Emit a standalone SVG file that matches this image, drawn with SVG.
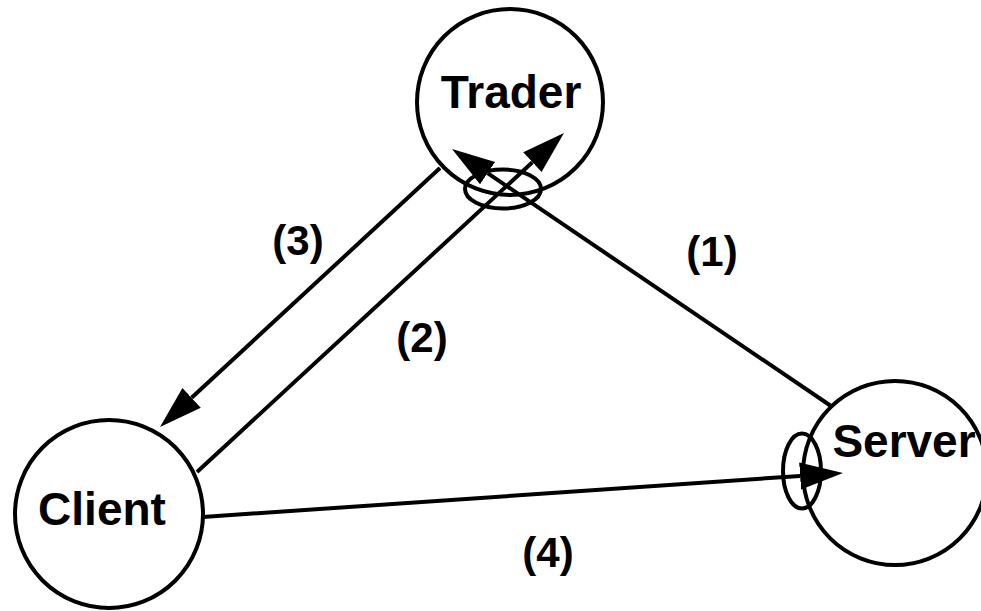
<svg xmlns="http://www.w3.org/2000/svg" width="981" height="611" viewBox="0 0 981 611">
<style>
.node{fill:#fff;stroke:#000;stroke-width:4}
.lbl{font-family:"Liberation Sans",Arial,sans-serif;font-weight:bold;fill:#000;text-anchor:middle}
.name{font-size:46px}
.num{font-size:42px}
.conn{stroke:#000;stroke-width:4;fill:none}
.port{fill:none;stroke:#000;stroke-width:4}
</style>
<defs>
<marker id="ah" markerUnits="userSpaceOnUse" markerWidth="44" markerHeight="30" viewBox="0 -15 44 30" refX="0" refY="0" orient="auto">
<path d="M0,-13.5 L43,0 L0,13.5 z" fill="#000"/>
</marker>
</defs>
<rect width="981" height="611" fill="#fff"/>
<g id="trader">
<circle class="node" cx="510" cy="102" r="93"/>
<text class="lbl name" x="511" y="108">Trader</text>
</g>
<g id="client">
<circle class="node" cx="109" cy="514" r="94"/>
<text class="lbl name" x="102" y="525">Client</text>
</g>
<g id="server">
<circle class="node" cx="895" cy="473" r="92"/>
<text class="lbl name" x="904" y="457">Server</text>
</g>
<g id="connectors">
<line class="conn" x1="831" y1="406" x2="487.6" y2="173.1" marker-end="url(#ah)"/>
<line class="conn" x1="197" y1="472" x2="532.4" y2="162.2" marker-end="url(#ah)"/>
<line class="conn" x1="440" y1="168" x2="191.6" y2="397.8" marker-end="url(#ah)"/>
<line class="conn" x1="203" y1="517" x2="800.1" y2="476" marker-end="url(#ah)"/>
<ellipse class="port" cx="503" cy="189" rx="38" ry="19.5"/>
<ellipse class="port" cx="802" cy="471" rx="19" ry="37.5"/>
</g>
<g id="labels">
<text class="lbl num" x="712" y="266">(1)</text>
<text class="lbl num" x="422" y="352">(2)</text>
<text class="lbl num" x="298" y="255">(3)</text>
<text class="lbl num" x="548" y="567">(4)</text>
</g>
</svg>
